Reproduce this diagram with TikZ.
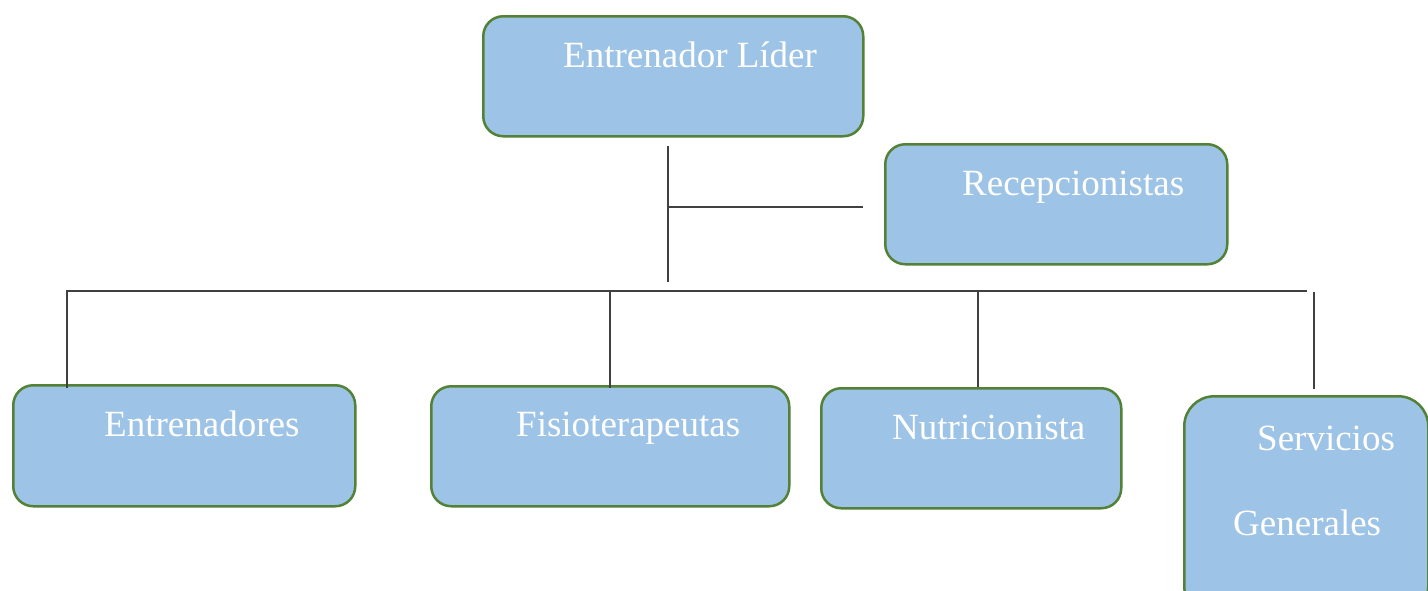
\documentclass[tikz,border=0pt]{standalone}
\usepackage{fontspec}
\setmainfont{Liberation Serif}
\begin{document}
\begin{tikzpicture}[x=1pt,y=-1pt,
  box/.style={draw=boxline,fill=boxfill,line width=2.5pt,rounded corners=20pt,anchor=north west,inner sep=0pt},
  lbl/.style={anchor=base west,text=white,font=\fontsize{37}{40}\selectfont,inner sep=0pt},
  conn/.style={draw=connline,line width=1.5pt}]
\definecolor{boxfill}{HTML}{9DC3E6}
\definecolor{boxline}{HTML}{538135}
\definecolor{connline}{HTML}{404040}
\useasboundingbox (0,0) rectangle (1428,590);
\clip (0,0) rectangle (1428,590);
% boxes
\node[box,minimum width=380pt,minimum height=120pt] (lider) at (482,15) {};
\node[box,minimum width=342pt,minimum height=120pt] (recep) at (884,143) {};
\node[box,minimum width=342pt,minimum height=121pt] (entr) at (12,384) {};
\node[box,minimum width=358pt,minimum height=120pt] (fisio) at (430,385) {};
\node[box,minimum width=300pt,minimum height=120pt] (nutri) at (820,387) {};
\node[box,rounded corners=30pt,minimum width=244pt,minimum height=220pt] (serv) at (1183,395) {};
% labels
\node[lbl] (tlider) at (563,67) {Entrenador Líder};
\node[lbl] (trecep) at (962,195) {Recepcionistas};
\node[lbl] (tentr) at (104,436) {Entrenadores};
\node[lbl] (tfisio) at (516,436) {Fisioterapeutas};
\node[lbl] (tnutri) at (892,439) {Nutricionista};
\node[lbl] (tserv1) at (1257,450) {Servicios};
\node[lbl] (tserv2) at (1233,535) {Generales};
% connector coordinates
\coordinate (a1) at (668,146);
\coordinate (a2) at (668,282);
\coordinate (r1) at (668,207);
\coordinate (r2) at (863,207);
\coordinate (b1) at (67,291);
\coordinate (b2) at (1307,291);
\coordinate (d1) at (67,388);
\coordinate (e1) at (610,291);
\coordinate (e2) at (610,388);
\coordinate (f1) at (978,291);
\coordinate (f2) at (978,387);
\coordinate (g1) at (1314,292);
\coordinate (g2) at (1314,389);
\draw[conn] (a1) -- (a2);
\draw[conn] (r1) -- (r2);
\draw[conn] (d1) -- (b1) -- (b2);
\draw[conn] (e1) -- (e2);
\draw[conn] (f1) -- (f2);
\draw[conn] (g1) -- (g2);
\end{tikzpicture}
\end{document}
